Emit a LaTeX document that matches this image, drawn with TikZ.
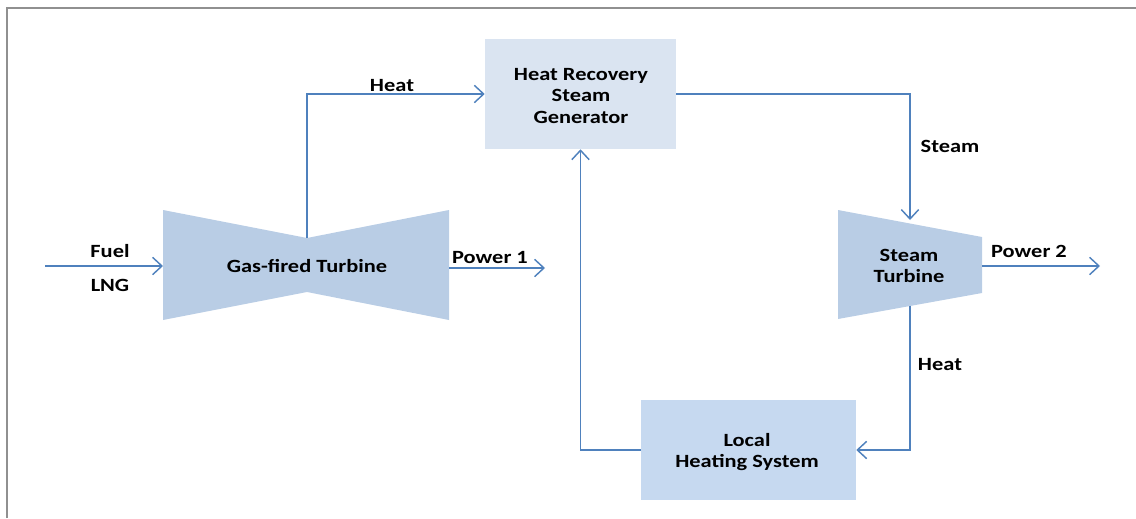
\documentclass[tikz,border=0pt]{standalone}
\usepackage{fontspec}
\setmainfont{Carlito}[FakeStretch=1.2]
\usetikzlibrary{arrows.meta}
\definecolor{flow}{HTML}{4F81BD}
\definecolor{turb}{HTML}{B9CDE5}
\definecolor{hrsg}{HTML}{DAE4F1}
\definecolor{lhs}{HTML}{C6D9F0}
\definecolor{frame}{HTML}{909090}
\tikzset{
  flowline/.style={draw=flow, line width=1.1pt, -{Straight Barb[length=7pt,width=13pt,line width=1.1pt]}},
  lbl/.style={font=\bfseries\fontsize{14}{16}\selectfont, text=black, inner sep=0pt},
  boxtxt/.style={font=\bfseries\fontsize{14}{16}\selectfont, text=black, align=center, inner sep=0pt},
}
\begin{document}
\begin{tikzpicture}[x=0.75pt,y=-0.75pt]
\useasboundingbox (0,0) rectangle (1136,518);
% frame
\draw[frame, line width=1.2pt] (7,518) -- (7,8) -- (1136,8);
% gas turbine (bow-tie)
\fill[turb] (163,210) -- (307,238) -- (449,210) -- (449,320) -- (307,292) -- (163,320) -- cycle;
\node[boxtxt] (gt) at (307,266) {Gas-fired Turbine};
\coordinate (gtL) at (163,266);
\coordinate (gtR) at (449,268);
\coordinate (gtTop) at (307,238);
% steam turbine
\fill[turb] (838,210) -- (982,237) -- (982,293) -- (838,319) -- cycle;
\node[boxtxt] (st) at (909,266) {Steam\\Turbine};
\coordinate (stTop) at (910,220);
\coordinate (stR) at (982,266);
\coordinate (stBot) at (910,306);
% HRSG
\node[fill=hrsg, minimum width=143.25pt, minimum height=82.5pt, inner sep=0pt] (hrsg) at (580.5,94) {};
\node[boxtxt] (hrsgt) at (581,96) {Heat Recovery\\Steam\\Generator};
% Local heating
\node[fill=lhs, minimum width=161.25pt, minimum height=75pt, inner sep=0pt] (lhs) at (748.5,450) {};
\node[boxtxt] (lhst) at (747,452) {Local\\Heating System};
% free ends
\coordinate (fuelS) at (45,266);
\coordinate (p1E) at (545,268);
\coordinate (p2E) at (1100,266);
% connectors
\draw[flowline] (fuelS) -- (gtL);
\draw[flowline] (gtTop) |- (hrsg.west);
\draw[flowline] (hrsg.east) -| (stTop);
\draw[flowline] (gtR) -- (p1E);
\draw[flowline] (stR) -- (p2E);
\draw[flowline] (stBot) |- (lhs.east);
\draw[flowline] (lhs.west) -| (hrsg.south);
% labels
\node[lbl] (lfuel) at (110,251) {Fuel};
\node[lbl] (llng) at (110,285) {LNG};
\node[lbl] (lheat1) at (392,86) {Heat};
\node[lbl] (lsteam) at (950,146) {Steam};
\node[lbl] (lp1) at (490,258) {Power 1};
\node[lbl] (lp2) at (1029,251) {Power 2};
\node[lbl] (lheat2) at (940,365) {Heat};
\end{tikzpicture}
\end{document}
